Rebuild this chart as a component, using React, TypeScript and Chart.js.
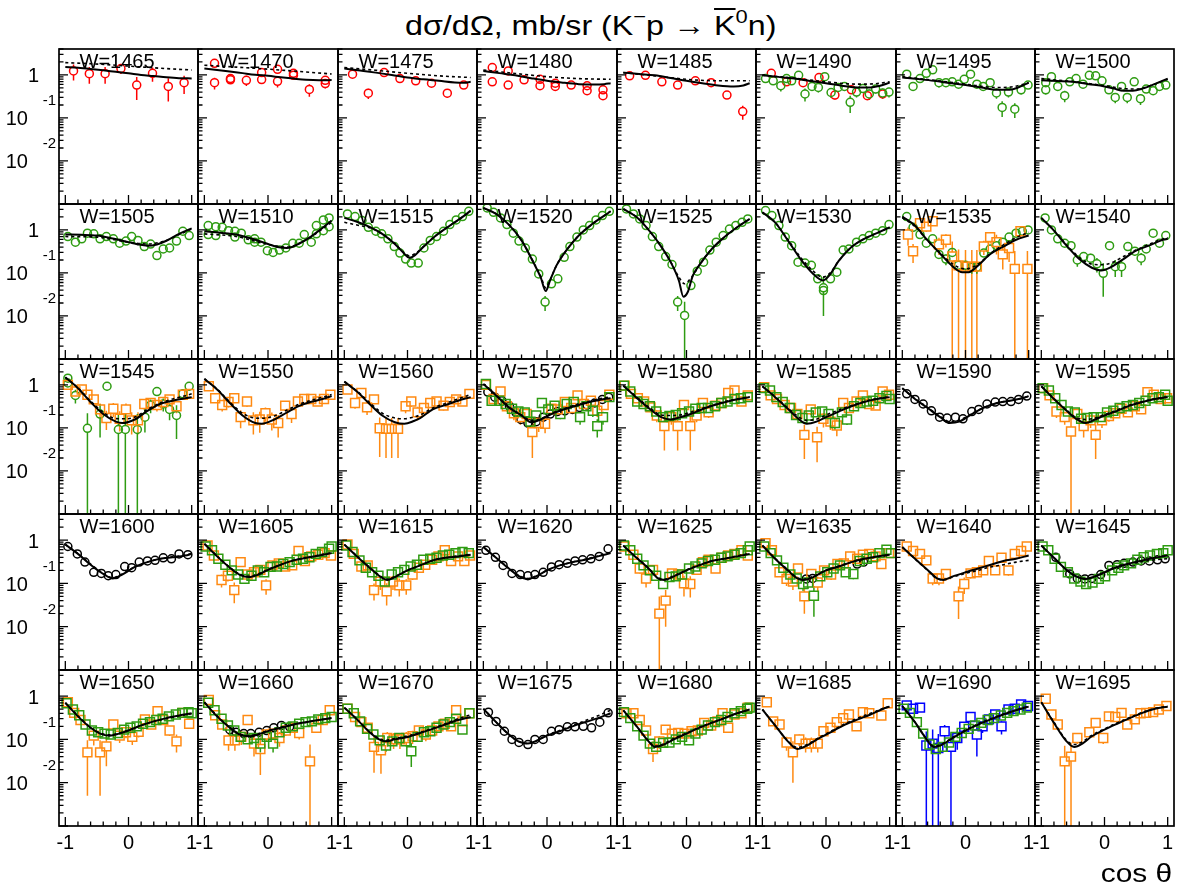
import React, { useEffect, useRef } from 'react';
import { Chart, registerables } from 'chart.js';
Chart.register(...registerables);

const FONT = '"Liberation Sans", Arial, Helvetica, sans-serif';

// ---------- axis / tick definitions ----------
const X_MIN = -1.1, X_MAX = 1.1;
const Y_MIN = 0.001, Y_MAX = 4;
const X_LABEL_VALUES = [-1, 0, 1];
const X_LABELS = ['-1', '0', '1'];
const X_TICKS = [-1, -0.8, -0.6, -0.4, -0.2, 0, 0.2, 0.4, 0.6, 0.8, 1];
const Y_LABEL_VALUES = [1, 0.1, 0.01];
const Y_LABELS = ['1', '10  ', '10  '];
const Y_SUP_LABELS = ['', '-1', '-2'];
const Y_DECADES = [0.001, 0.01, 0.1, 1];
const Y_MANTISSAS = [1, 2, 3, 4, 5, 6, 7, 8, 9];

// ---------- data: [cos θ, dσ/dΩ, error] and curves [cos θ, dσ/dΩ] ----------
// Row 1
const red1465 = [[-0.87,1.24,0.5],[-0.62,1.07,0.45],[-0.37,1.07,0.45],[-0.12,1.40,0.35],[0.13,0.58,0.32],[0.38,1.09,0.4],[0.63,0.54,0.3],[0.88,0.66,0.3]];
const fit1465 = [[-1,1.53],[-0.8,1.47],[-0.6,1.38],[-0.4,1.28],[-0.2,1.18],[0,1.09],[0.2,1.0],[0.4,0.94],[0.6,0.88],[0.8,0.84],[1,0.83]];
const alt1465 = [[-1,1.93],[-0.6,1.82],[-0.2,1.68],[0.2,1.53],[0.6,1.40],[1,1.30]];

const red1470 = [[-0.84,1.86,0.4],[-0.84,0.66,0.2],[-0.59,0.82,0.2],[-0.59,0.77,0.15],[-0.34,0.75,0.2],[-0.1,1.13,0.2],[-0.1,0.78,0.15],[0.15,1.35,0.25],[0.15,0.71,0.2],[0.4,1.09,0.2],[0.4,0.98,0.15],[0.65,0.46,0.15],[0.9,0.75,0.15],[0.9,0.63,0.15]];
const fit1470 = [[-1,1.40],[-0.8,1.30],[-0.6,1.20],[-0.4,1.10],[-0.2,1.01],[0,0.95],[0.2,0.88],[0.4,0.82],[0.6,0.77],[0.8,0.75],[1,0.76]];
const alt1470 = [[-1,1.68],[-0.5,1.52],[0,1.36],[0.5,1.2],[1,1.05]];

const red1475 = [[-0.87,1.04,0.2],[-0.62,0.376,0.1],[-0.37,1.13,0.12],[-0.12,0.82,0.08],[0.13,0.73,0.07],[0.38,0.64,0.07],[0.63,0.376,0.08],[0.89,0.58,0.08]];
const fit1475 = [[-1,1.40],[-0.75,1.26],[-0.5,1.13],[-0.25,1.0],[0,0.87],[0.25,0.79],[0.5,0.73],[0.75,0.67],[0.9,0.66],[1,0.69]];
const alt1475 = [[-1,1.48],[-0.5,1.28],[0,1.09],[0.5,0.95],[1,0.87]];

const red1480 = [[-0.86,1.48,0.15],[-0.86,0.69,0.1],[-0.61,1.24,0.12],[-0.61,0.58,0.08],[-0.36,0.77,0.08],[-0.11,0.79,0.08],[-0.11,0.56,0.06],[0.13,0.64,0.07],[0.13,0.54,0.06],[0.38,0.58,0.06],[0.63,0.56,0.06],[0.63,0.43,0.05],[0.88,0.45,0.06],[0.88,0.33,0.06]];
const fit1480 = [[-1,1.24],[-0.75,1.1],[-0.5,0.98],[-0.25,0.84],[0,0.73],[0.25,0.66],[0.5,0.61],[0.75,0.595],[0.9,0.61],[1,0.64]];
const alt1480 = [[-1,1.30],[-0.5,1.08],[0,0.91],[0.5,0.82],[1,0.79]];

const red1485 = [[-0.90,0.95,0.08],[-0.65,0.98,0.08],[-0.39,0.69,0.07],[-0.14,0.58,0.07],[0.14,0.73,0.07],[0.39,0.66,0.07],[0.64,0.34,0.06],[0.89,0.141,0.05]];
const fit1485 = [[-1,1.13],[-0.75,1.05],[-0.5,0.98],[-0.25,0.85],[0,0.73],[0.25,0.64],[0.5,0.57],[0.75,0.54],[0.9,0.57],[1,0.64]];
const alt1485 = [[-1,1.13],[-0.5,0.95],[0,0.79],[0.5,0.73],[1,0.73]];

const red1490 = [[-0.86,1.09,0.1],[-0.62,0.69,0.08],[-0.36,0.66,0.08],[-0.11,0.87,0.08],[0.14,0.34,0.07],[0.40,0.45,0.07],[0.65,0.33,0.07],[0.89,0.36,0.07]];
const green1490 = [[-0.95,0.82,0.15],[-0.83,0.73,0.15],[-0.71,0.56,0.15],[-0.62,0.82,0.12],[-0.54,0.73,0.12],[-0.43,0.98,0.15],[-0.33,0.36,0.12],[-0.22,0.54,0.12],[-0.12,0.51,0.12],[-0.02,0.91,0.15],[0.08,0.39,0.1],[0.19,0.51,0.1],[0.29,0.54,0.1],[0.38,0.23,0.1],[0.48,0.40,0.1],[0.58,0.48,0.1],[0.68,0.36,0.1],[0.78,0.47,0.1],[0.89,0.38,0.1],[0.99,0.40,0.1]];
const fit1490 = [[-1,0.98],[-0.75,0.90],[-0.5,0.82],[-0.25,0.72],[0,0.64],[0.25,0.56],[0.5,0.51],[0.7,0.51],[0.85,0.56],[1,0.66]];
const alt1490 = [[-1,0.98],[-0.5,0.84],[0,0.69],[0.5,0.61],[0.75,0.62],[1,0.69]];

const green1495 = [[-0.93,1.04,0.12],[-0.83,0.54,0.12],[-0.72,0.82,0.12],[-0.62,1.09,0.12],[-0.52,1.31,0.15],[-0.42,0.66,0.15],[-0.31,0.66,0.1],[-0.21,0.69,0.1],[-0.11,0.61,0.1],[-0.02,0.79,0.1],[0.08,1.04,0.12],[0.18,0.61,0.1],[0.28,0.54,0.1],[0.39,0.66,0.1],[0.49,0.38,0.1],[0.58,0.175,0.07],[0.68,0.40,0.1],[0.78,0.16,0.06],[0.88,0.45,0.1],[0.99,0.58,0.1]];
const fit1495 = [[-1,0.87],[-0.75,0.80],[-0.5,0.73],[-0.25,0.65],[0,0.58],[0.25,0.51],[0.5,0.45],[0.7,0.45],[0.85,0.52],[1,0.66]];
const alt1495 = [[-1,0.91],[-0.5,0.75],[0,0.61],[0.5,0.51],[0.75,0.53],[1,0.66]];

const green1500 = [[-0.93,0.66,0.1],[-0.93,0.45,0.1],[-0.84,0.91,0.1],[-0.74,0.54,0.1],[-0.63,0.33,0.1],[-0.55,0.69,0.1],[-0.45,0.82,0.1],[-0.34,0.61,0.1],[-0.24,0.98,0.1],[-0.14,0.95,0.1],[-0.04,0.73,0.1],[0.07,0.45,0.08],[0.17,0.30,0.08],[0.27,0.54,0.08],[0.36,0.30,0.08],[0.47,0.69,0.08],[0.57,0.28,0.08],[0.66,0.47,0.08],[0.77,0.43,0.08],[0.87,0.54,0.08],[0.97,0.58,0.08]];
const fit1500 = [[-1,0.75],[-0.75,0.72],[-0.5,0.69],[-0.25,0.61],[0,0.54],[0.15,0.48],[0.3,0.43],[0.45,0.43],[0.6,0.48],[0.8,0.62],[1,0.82]];
const alt1500 = [[-1,0.82],[-0.5,0.70],[0,0.56],[0.3,0.48],[0.5,0.47],[0.75,0.58],[1,0.79]];

// Row 2
const green1505 = [[-0.96,0.70,0.08],[-0.84,0.52,0.06],[-0.74,0.62,0.06],[-0.65,0.84,0.07],[-0.55,0.81,0.07],[-0.45,0.62,0.06],[-0.35,0.70,0.06],[-0.24,0.62,0.06],[-0.14,0.49,0.05],[-0.04,0.55,0.05],[0.05,0.70,0.06],[0.15,0.57,0.05],[0.25,0.41,0.04],[0.35,0.47,0.05],[0.45,0.254,0.05],[0.55,0.36,0.04],[0.65,0.38,0.04],[0.76,0.55,0.05],[0.86,0.93,0.07],[0.96,0.74,0.06]];
const fit1505 = [[-1,0.78],[-0.75,0.77],[-0.5,0.74],[-0.25,0.63],[0,0.52],[0.15,0.46],[0.3,0.43],[0.45,0.46],[0.6,0.56],[0.8,0.81],[1,1.09]];
const alt1505 = [[-1,0.70],[-0.5,0.68],[-0.25,0.60],[0,0.52],[0.3,0.47],[0.6,0.57],[0.8,0.78],[1,1.05]];

const green1510 = [[-0.94,1.26,0.1],[-0.94,0.78,0.07],[-0.82,1.19,0.1],[-0.82,0.74,0.06],[-0.72,1.15,0.1],[-0.62,0.96,0.08],[-0.52,0.93,0.08],[-0.52,0.68,0.06],[-0.42,0.84,0.07],[-0.31,0.59,0.05],[-0.21,0.62,0.05],[-0.21,0.52,0.05],[-0.11,0.52,0.05],[-0.01,0.33,0.04],[0.08,0.30,0.04],[0.18,0.34,0.04],[0.28,0.38,0.04],[0.39,0.49,0.05],[0.49,0.49,0.05],[0.57,0.78,0.06],[0.68,0.52,0.05],[0.76,1.26,0.1],[0.76,0.81,0.07],[0.87,1.71,0.12],[0.87,0.96,0.08],[0.96,1.90,0.15],[0.96,1.19,0.1]];
const fit1510 = [[-1,0.93],[-0.75,0.86],[-0.5,0.78],[-0.2,0.59],[0,0.47],[0.15,0.40],[0.3,0.38],[0.5,0.49],[0.65,0.66],[0.8,0.96],[1,1.65]];
const alt1510 = [[-1,0.81],[-0.5,0.70],[0,0.46],[0.3,0.40],[0.6,0.59],[0.8,0.92],[1,1.5]];

const green1515 = [[-0.95,2.35,0.15],[-0.83,2.04,0.12],[-0.72,1.65,0.1],[-0.62,1.15,0.08],[-0.50,0.93,0.07],[-0.41,0.81,0.06],[-0.31,0.62,0.05],[-0.21,0.41,0.04],[-0.12,0.29,0.03],[-0.03,0.21,0.03],[0.06,0.17,0.02],[0.17,0.17,0.02],[0.26,0.38,0.03],[0.36,0.57,0.04],[0.46,0.70,0.05],[0.57,0.93,0.06],[0.67,1.33,0.08],[0.77,1.71,0.1],[0.87,2.04,0.12],[0.97,2.71,0.15]];
const fit1515 = [[-1,1.9],[-0.8,1.55],[-0.6,1.18],[-0.4,0.81],[-0.2,0.47],[-0.05,0.28],[0.03,0.224],[0.12,0.26],[0.25,0.40],[0.45,0.74],[0.7,1.35],[0.85,1.9],[1,2.8]];
const alt1515 = [[-1,1.5],[-0.8,1.3],[-0.6,1.12],[-0.4,0.81],[-0.2,0.48],[-0.05,0.29],[0.03,0.25],[0.12,0.28],[0.25,0.41],[0.45,0.74],[0.7,1.35],[0.85,1.9],[1,2.75]];

const green1520 = [[-0.94,3.24,0.2],[-0.84,2.57,0.15],[-0.73,1.90,0.12],[-0.63,1.33,0.1],[-0.53,0.84,0.06],[-0.44,0.55,0.04],[-0.34,0.38,0.03],[-0.23,0.21,0.02],[-0.13,0.095,0.01],[-0.03,0.021,0.008],[0.07,0.056,0.008],[0.17,0.073,0.01],[0.27,0.23,0.02],[0.36,0.41,0.03],[0.47,0.68,0.05],[0.57,1.0,0.06],[0.67,1.26,0.08],[0.77,1.71,0.1],[0.87,2.15,0.12],[0.98,2.71,0.15]];
const fit1520 = [[-1,3.24],[-0.8,2.35],[-0.6,1.33],[-0.4,0.57],[-0.2,0.16],[-0.1,0.08],[-0.02,0.038],[0.05,0.068],[0.15,0.15],[0.3,0.33],[0.5,0.74],[0.7,1.33],[0.9,2.15],[1,2.71]];
const alt1520 = [[-1,3.24],[-0.8,2.35],[-0.6,1.33],[-0.4,0.57],[-0.2,0.165],[-0.1,0.085],[-0.02,0.045],[0.05,0.07],[0.15,0.15],[0.3,0.33],[0.5,0.74],[0.7,1.33],[0.9,2.15],[1,2.71]];

const green1525 = [[-0.95,3.07,0.2],[-0.84,2.35,0.15],[-0.74,1.80,0.12],[-0.64,1.26,0.08],[-0.54,0.70,0.05],[-0.44,0.41,0.03],[-0.33,0.24,0.02],[-0.23,0.157,0.015],[-0.14,0.021,0.008],[-0.03,0.0103,0.011],[0.07,0.051,0.008],[0.17,0.11,0.01],[0.27,0.178,0.015],[0.37,0.34,0.025],[0.47,0.52,0.035],[0.58,0.74,0.05],[0.68,1.05,0.06],[0.78,1.26,0.08],[0.88,1.5,0.08],[0.97,1.80,0.1]];
const fit1525 = [[-1,3.07],[-0.8,2.04],[-0.6,1.0],[-0.4,0.41],[-0.25,0.178],[-0.12,0.066],[-0.05,0.028],[0.02,0.036],[0.1,0.087],[0.2,0.15],[0.4,0.36],[0.6,0.68],[0.8,1.15],[1,1.80]];
const alt1525 = [[-1,3.07],[-0.8,2.04],[-0.6,1.0],[-0.4,0.41],[-0.25,0.18],[-0.12,0.08],[-0.03,0.056],[0.05,0.07],[0.12,0.095],[0.2,0.15],[0.4,0.36],[0.6,0.68],[0.8,1.15],[1,1.80]];

const green1530 = [[-0.95,2.81,0.15],[-0.85,2.15,0.12],[-0.74,1.26,0.1],[-0.64,0.68,0.06],[-0.54,0.43,0.04],[-0.44,0.178,0.03],[-0.33,0.17,0.03],[-0.23,0.15,0.03],[-0.13,0.073,0.015],[-0.04,0.045,0.035],[-0.04,0.039,0.01],[0.07,0.073,0.015],[0.17,0.104,0.02],[0.27,0.34,0.04],[0.36,0.36,0.04],[0.48,0.52,0.05],[0.58,0.62,0.05],[0.68,0.74,0.06],[0.78,0.84,0.06],[0.89,0.96,0.07],[0.99,1.33,0.08]];
const fit1530 = [[-1,2.57],[-0.8,1.5],[-0.6,0.57],[-0.4,0.21],[-0.2,0.095],[-0.05,0.067],[0.05,0.087],[0.2,0.19],[0.4,0.40],[0.6,0.62],[0.8,0.84],[1,1.15]];
const alt1530 = [[-1,2.57],[-0.8,1.5],[-0.6,0.6],[-0.4,0.23],[-0.2,0.11],[-0.05,0.08],[0.05,0.095],[0.2,0.19],[0.4,0.40],[0.6,0.62],[0.8,0.84],[1,1.15]];

const green1535 = [[-0.93,2.04,0.15],[-0.83,1.15,0.12],[-0.72,0.78,0.1],[-0.62,0.49,0.08],[-0.52,0.62,0.08],[-0.42,0.27,0.06],[-0.31,0.21,0.06],[-0.21,0.30,0.06],[-0.11,0.15,0.04],[0.0,0.15,0.04],[0.10,0.136,0.04],[0.18,0.136,0.04],[0.29,0.29,0.05],[0.39,0.36,0.05],[0.49,0.43,0.06],[0.59,0.52,0.06],[0.69,0.68,0.07],[0.80,0.84,0.08],[0.90,0.93,0.08],[0.99,1.0,0.1]];
const orange1535 = [[-0.91,0.78,0.35],[-0.83,0.32,0.15],[-0.72,1.43,0.3],[-0.62,1.19,0.3],[-0.52,1.59,0.3],[-0.42,0.46,0.2],[-0.31,0.59,0.2],[-0.21,0.24,0.3],[-0.11,0.15,0.2],[0.0,0.14,0.2],[0.10,0.14,0.2],[0.18,0.14,0.2],[0.29,0.41,0.15],[0.39,0.68,0.2],[0.49,0.52,0.25],[0.59,0.27,0.15],[0.69,0.38,0.2],[0.78,0.124,0.2],[0.87,0.93,0.3],[0.98,0.124,0.2]];
const fit1535 = [[-1,2.04],[-0.8,1.26],[-0.6,0.57],[-0.4,0.28],[-0.2,0.14],[-0.05,0.104],[0.05,0.104],[0.2,0.15],[0.4,0.28],[0.6,0.41],[0.8,0.59],[1,0.74]];
const alt1535 = [[-1,1.90],[-0.8,1.2],[-0.6,0.56],[-0.4,0.29],[-0.2,0.16],[0,0.124],[0.2,0.16],[0.4,0.29],[0.6,0.45],[0.8,0.66],[1,0.88]];

const green1540 = [[-0.94,1.90,0.15],[-0.84,1.0,0.1],[-0.74,0.62,0.08],[-0.63,0.49,0.07],[-0.53,0.43,0.07],[-0.43,0.20,0.06],[-0.33,0.24,0.06],[-0.22,0.22,0.06],[-0.12,0.163,0.06],[-0.02,0.098,0.07],[0.08,0.43,0.07],[0.17,0.14,0.06],[0.27,0.14,0.06],[0.37,0.41,0.07],[0.48,0.32,0.07],[0.58,0.22,0.07],[0.66,0.36,0.07],[0.77,0.84,0.1],[0.87,0.49,0.08],[0.97,0.74,0.08]];
const fit1540 = [[-1,1.9],[-0.8,0.96],[-0.6,0.43],[-0.4,0.21],[-0.2,0.132],[-0.05,0.114],[0.1,0.136],[0.3,0.21],[0.5,0.33],[0.7,0.43],[0.9,0.57],[1,0.62]];
const alt1540 = [[-1,1.9],[-0.8,0.98],[-0.6,0.45],[-0.4,0.23],[-0.2,0.16],[-0.05,0.155],[0.1,0.17],[0.3,0.24],[0.5,0.34],[0.7,0.46],[0.9,0.6],[1,0.66]];

// Row 3
const green1545 = [[-0.96,1.43,0.2],[-0.96,1.11,0.2],[-0.84,0.57,0.2],[-0.65,0.098,0.12],[-0.45,0.21,0.15],[-0.34,0.93,0.2],[-0.16,0.092,0.12],[-0.05,0.092,0.12],[0.14,0.092,0.12],[0.26,0.178,0.1],[0.35,0.34,0.12],[0.45,0.70,0.15],[0.55,0.36,0.12],[0.65,0.27,0.12],[0.76,0.195,0.14],[0.86,0.62,0.15],[0.96,0.93,0.15]];
const orange1545 = [[-0.96,1.0,0.2],[-0.84,0.70,0.15],[-0.74,0.78,0.15],[-0.65,0.59,0.12],[-0.55,0.46,0.1],[-0.45,0.27,0.1],[-0.35,0.17,0.08],[-0.24,0.28,0.1],[-0.14,0.163,0.08],[-0.04,0.27,0.1],[0.05,0.15,0.08],[0.15,0.15,0.08],[0.25,0.36,0.1],[0.35,0.38,0.1],[0.45,0.34,0.1],[0.55,0.40,0.1],[0.65,0.46,0.1],[0.76,0.32,0.1],[0.86,0.59,0.12],[0.96,0.62,0.12]];
const fit1545 = [[-1,1.5],[-0.8,0.84],[-0.6,0.40],[-0.4,0.21],[-0.2,0.14],[-0.1,0.13],[0.1,0.157],[0.3,0.25],[0.5,0.36],[0.7,0.43],[0.9,0.49],[1,0.52]];
const alt1545 = [[-1,1.5],[-0.8,0.85],[-0.6,0.42],[-0.4,0.23],[-0.2,0.165],[-0.05,0.163],[0.1,0.18],[0.3,0.27],[0.5,0.38],[0.7,0.47],[0.9,0.56],[1,0.62]];

const orange1550 = [[-0.93,0.93,0.12],[-0.83,0.49,0.1],[-0.72,0.34,0.1],[-0.62,0.40,0.1],[-0.53,0.49,0.1],[-0.43,0.178,0.08],[-0.33,0.41,0.1],[-0.23,0.15,0.08],[-0.13,0.157,0.08],[-0.04,0.22,0.08],[0.06,0.157,0.07],[0.16,0.13,0.07],[0.27,0.33,0.08],[0.37,0.21,0.08],[0.47,0.41,0.08],[0.57,0.47,0.08],[0.68,0.47,0.08],[0.78,0.41,0.07],[0.88,0.47,0.07],[0.98,0.59,0.08]];
const fit1550 = [[-1,1.38],[-0.8,0.78],[-0.6,0.38],[-0.4,0.195],[-0.2,0.13],[-0.1,0.125],[0.1,0.157],[0.3,0.23],[0.5,0.33],[0.7,0.41],[0.9,0.49],[1,0.55]];
const alt1550 = [[-1,1.38],[-0.8,0.8],[-0.6,0.4],[-0.4,0.22],[-0.2,0.17],[-0.1,0.168],[0.1,0.19],[0.3,0.26],[0.5,0.36],[0.7,0.45],[0.9,0.54],[1,0.6]];

const orange1560 = [[-0.95,0.78,0.12],[-0.83,0.38,0.1],[-0.73,0.65,0.12],[-0.64,0.30,0.1],[-0.53,0.46,0.1],[-0.44,0.098,0.077],[-0.34,0.095,0.075],[-0.25,0.095,0.075],[-0.15,0.095,0.075],[-0.03,0.32,0.1],[0.06,0.41,0.1],[0.16,0.23,0.08],[0.26,0.29,0.08],[0.36,0.38,0.08],[0.46,0.41,0.08],[0.57,0.33,0.08],[0.67,0.40,0.08],[0.77,0.46,0.08],[0.87,0.41,0.08],[0.98,0.62,0.1]];
const fit1560 = [[-1,1.19],[-0.8,0.70],[-0.6,0.36],[-0.4,0.195],[-0.2,0.136],[-0.05,0.125],[0.1,0.145],[0.2,0.17],[0.4,0.27],[0.6,0.34],[0.8,0.43],[1,0.52]];
const alt1560 = [[-1,1.19],[-0.8,0.72],[-0.6,0.39],[-0.4,0.22],[-0.2,0.17],[-0.05,0.163],[0.1,0.18],[0.2,0.2],[0.4,0.29],[0.6,0.37],[0.8,0.47],[1,0.6]];

const black1570 = [[-0.93,0.68,0.02],[-0.82,0.52,0.02],[-0.71,0.43,0.02],[-0.59,0.32,0.01],[-0.49,0.23,0.01],[-0.41,0.157,0.01],[-0.30,0.13,0.01],[-0.17,0.14,0.01],[-0.06,0.178,0.01],[0.05,0.21,0.01],[0.16,0.24,0.01],[0.28,0.25,0.01],[0.40,0.27,0.01],[0.51,0.30,0.01],[0.63,0.34,0.01],[0.75,0.38,0.01],[0.87,0.46,0.02],[0.97,0.52,0.02]];
const orange1570 = [[-0.96,1.0,0.15],[-0.84,0.47,0.1],[-0.73,0.70,0.1],[-0.63,0.32,0.08],[-0.52,0.22,0.07],[-0.42,0.178,0.06],[-0.32,0.21,0.07],[-0.23,0.08,0.06],[-0.13,0.13,0.05],[-0.03,0.125,0.05],[0.07,0.28,0.06],[0.17,0.27,0.06],[0.28,0.40,0.07],[0.38,0.29,0.06],[0.48,0.57,0.08],[0.58,0.36,0.07],[0.69,0.43,0.07],[0.79,0.25,0.07],[0.89,0.34,0.07],[0.98,0.59,0.08]];
const green1570 = [[-0.96,1.05,0.06],[-0.87,0.43,0.06],[-0.75,0.43,0.06],[-0.65,0.36,0.05],[-0.55,0.28,0.05],[-0.45,0.24,0.05],[-0.35,0.23,0.05],[-0.26,0.14,0.04],[-0.17,0.195,0.05],[-0.08,0.38,0.06],[0.02,0.27,0.05],[0.12,0.33,0.05],[0.21,0.21,0.05],[0.31,0.36,0.06],[0.42,0.40,0.06],[0.52,0.178,0.06],[0.62,0.32,0.06],[0.72,0.25,0.07],[0.79,0.11,0.05],[0.88,0.178,0.06],[0.98,0.52,0.07]];
const fit1570 = [[-1,1.05],[-0.8,0.57],[-0.6,0.30],[-0.4,0.195],[-0.25,0.136],[-0.1,0.157],[0.1,0.22],[0.3,0.28],[0.5,0.34],[0.7,0.41],[0.9,0.47],[1,0.49]];
const alt1570 = [[-1,1.05],[-0.8,0.58],[-0.6,0.31],[-0.4,0.2],[-0.25,0.15],[-0.1,0.165],[0.1,0.23],[0.3,0.29],[0.5,0.36],[0.7,0.43],[0.9,0.5],[1,0.52]];

const orange1580 = [[-0.98,0.96,0.1],[-0.88,0.62,0.1],[-0.77,0.49,0.1],[-0.67,0.41,0.08],[-0.57,0.30,0.07],[-0.47,0.195,0.06],[-0.35,0.11,0.08],[-0.24,0.178,0.06],[-0.14,0.11,0.08],[-0.04,0.34,0.07],[0.06,0.11,0.08],[0.16,0.195,0.06],[0.26,0.38,0.07],[0.35,0.23,0.06],[0.46,0.33,0.06],[0.56,0.38,0.07],[0.66,0.65,0.08],[0.76,0.74,0.08],[0.87,0.41,0.07],[0.97,0.57,0.08]];
const green1580 = [[-0.99,0.96,0.05],[-0.89,0.70,0.05],[-0.78,0.41,0.04],[-0.68,0.36,0.04],[-0.58,0.32,0.04],[-0.48,0.24,0.03],[-0.37,0.178,0.03],[-0.27,0.19,0.03],[-0.17,0.20,0.03],[-0.07,0.22,0.03],[0.04,0.24,0.03],[0.14,0.28,0.03],[0.24,0.29,0.03],[0.34,0.29,0.03],[0.45,0.32,0.03],[0.55,0.38,0.04],[0.65,0.41,0.04],[0.76,0.47,0.04],[0.86,0.49,0.04],[0.97,0.52,0.04]];
const fit1580 = [[-1,0.96],[-0.8,0.52],[-0.6,0.29],[-0.4,0.178],[-0.25,0.157],[-0.1,0.178],[0.1,0.22],[0.3,0.29],[0.5,0.36],[0.7,0.43],[0.9,0.49],[1,0.52]];
const alt1580 = [[-1,0.96],[-0.8,0.54],[-0.6,0.31],[-0.4,0.2],[-0.25,0.195],[-0.1,0.2],[0.1,0.24],[0.3,0.3],[0.5,0.37],[0.7,0.44],[0.9,0.5],[1,0.53]];

const orange1585 = [[-0.97,0.88,0.1],[-0.87,0.57,0.08],[-0.77,0.47,0.08],[-0.65,0.34,0.07],[-0.55,0.29,0.06],[-0.45,0.21,0.06],[-0.34,0.069,0.05],[-0.24,0.27,0.07],[-0.14,0.061,0.045],[-0.04,0.163,0.06],[0.07,0.14,0.05],[0.17,0.114,0.05],[0.27,0.38,0.07],[0.36,0.29,0.06],[0.48,0.41,0.07],[0.58,0.57,0.08],[0.68,0.36,0.07],[0.78,0.33,0.07],[0.89,0.70,0.08],[0.99,0.59,0.08]];
const green1585 = [[-0.98,0.84,0.05],[-0.88,0.74,0.05],[-0.78,0.52,0.04],[-0.68,0.40,0.04],[-0.57,0.29,0.03],[-0.47,0.20,0.03],[-0.37,0.17,0.03],[-0.27,0.195,0.03],[-0.16,0.23,0.03],[-0.06,0.24,0.03],[0.04,0.21,0.03],[0.14,0.13,0.04],[0.25,0.23,0.03],[0.33,0.157,0.04],[0.44,0.32,0.03],[0.54,0.38,0.04],[0.64,0.41,0.04],[0.74,0.43,0.04],[0.84,0.49,0.04],[0.95,0.55,0.04],[1.0,0.47,0.04]];
const fit1585 = [[-1,0.93],[-0.8,0.52],[-0.6,0.28],[-0.45,0.17],[-0.3,0.125],[-0.15,0.14],[0,0.178],[0.2,0.24],[0.4,0.32],[0.6,0.40],[0.8,0.47],[1,0.52]];
const alt1585 = [[-1,0.93],[-0.8,0.53],[-0.6,0.29],[-0.45,0.19],[-0.3,0.15],[-0.15,0.16],[0,0.2],[0.2,0.26],[0.4,0.33],[0.6,0.41],[0.8,0.48],[1,0.53]];

const black1590 = [[-0.93,0.62,0.02],[-0.80,0.46,0.02],[-0.67,0.36,0.015],[-0.54,0.25,0.01],[-0.41,0.178,0.01],[-0.29,0.17,0.01],[-0.16,0.178,0.01],[-0.04,0.163,0.01],[0.10,0.24,0.01],[0.21,0.27,0.01],[0.34,0.36,0.015],[0.47,0.40,0.015],[0.59,0.41,0.015],[0.72,0.41,0.015],[0.84,0.46,0.015],[0.97,0.55,0.02]];
const fit1590 = [[-1,0.84],[-0.8,0.47],[-0.6,0.29],[-0.4,0.178],[-0.25,0.13],[-0.1,0.14],[0.1,0.21],[0.3,0.30],[0.5,0.38],[0.7,0.43],[0.9,0.49],[1,0.55]];
const alt1590 = [[-1,0.84],[-0.8,0.48],[-0.6,0.3],[-0.4,0.185],[-0.25,0.14],[-0.1,0.15],[0.1,0.215],[0.3,0.3],[0.5,0.38],[0.7,0.43],[0.9,0.49],[1,0.55]];

const orange1595 = [[-0.97,0.84,0.1],[-0.87,0.57,0.08],[-0.76,0.24,0.07],[-0.63,0.178,0.06],[-0.53,0.083,0.09],[-0.43,0.21,0.06],[-0.33,0.11,0.05],[-0.22,0.15,0.05],[-0.14,0.069,0.05],[-0.04,0.15,0.05],[0.07,0.19,0.05],[0.17,0.22,0.05],[0.27,0.28,0.06],[0.37,0.23,0.05],[0.48,0.32,0.06],[0.58,0.27,0.06],[0.68,0.68,0.08],[0.78,0.59,0.08],[0.89,0.47,0.07],[0.99,0.49,0.07]];
const green1595 = [[-0.98,0.84,0.05],[-0.88,0.74,0.05],[-0.78,0.49,0.04],[-0.68,0.34,0.04],[-0.58,0.24,0.03],[-0.47,0.23,0.03],[-0.37,0.163,0.03],[-0.27,0.17,0.03],[-0.17,0.178,0.03],[-0.06,0.178,0.03],[0.04,0.23,0.03],[0.14,0.25,0.03],[0.24,0.29,0.03],[0.35,0.32,0.03],[0.45,0.34,0.03],[0.55,0.38,0.04],[0.65,0.43,0.04],[0.76,0.49,0.04],[0.86,0.52,0.04],[0.96,0.59,0.04],[1.0,0.43,0.04]];
const fit1595 = [[-1,0.93],[-0.8,0.47],[-0.6,0.25],[-0.45,0.163],[-0.3,0.13],[-0.15,0.157],[0,0.195],[0.2,0.25],[0.4,0.33],[0.6,0.40],[0.8,0.47],[1,0.52]];
const alt1595 = [[-1,0.93],[-0.8,0.48],[-0.6,0.26],[-0.45,0.175],[-0.3,0.157],[-0.15,0.17],[0,0.205],[0.2,0.26],[0.4,0.34],[0.6,0.41],[0.8,0.48],[1,0.53]];

// Row 4
const black1600 = [[-0.96,0.71,0.02],[-0.81,0.48,0.02],[-0.69,0.31,0.015],[-0.55,0.18,0.01],[-0.43,0.17,0.01],[-0.32,0.15,0.01],[-0.20,0.16,0.01],[-0.06,0.245,0.01],[0.05,0.23,0.01],[0.17,0.31,0.015],[0.30,0.33,0.015],[0.42,0.34,0.015],[0.55,0.39,0.015],[0.68,0.37,0.015],[0.80,0.48,0.02],[0.94,0.46,0.02]];
const fit1600 = [[-1,0.79],[-0.8,0.48],[-0.6,0.27],[-0.4,0.166],[-0.25,0.13],[-0.1,0.16],[0.1,0.24],[0.3,0.31],[0.5,0.37],[0.7,0.40],[0.9,0.44],[1,0.48]];
const alt1600 = [[-1,0.79],[-0.8,0.49],[-0.6,0.28],[-0.4,0.17],[-0.25,0.135],[-0.1,0.165],[0.1,0.24],[0.3,0.31],[0.5,0.37],[0.7,0.41],[0.9,0.45],[1,0.49]];

const orange1605 = [[-0.95,0.75,0.08],[-0.85,0.44,0.06],[-0.73,0.12,0.04],[-0.63,0.15,0.04],[-0.53,0.07,0.035],[-0.43,0.31,0.05],[-0.32,0.16,0.04],[-0.22,0.18,0.04],[-0.12,0.205,0.04],[-0.03,0.09,0.035],[0.07,0.26,0.04],[0.17,0.29,0.04],[0.27,0.245,0.04],[0.38,0.26,0.04],[0.48,0.56,0.05],[0.58,0.33,0.04],[0.68,0.42,0.04],[0.79,0.46,0.04],[0.89,0.50,0.05],[0.99,0.44,0.04]];
const green1605 = [[-0.98,0.71,0.03],[-0.88,0.58,0.03],[-0.78,0.37,0.02],[-0.67,0.27,0.02],[-0.57,0.20,0.02],[-0.47,0.16,0.02],[-0.37,0.127,0.02],[-0.26,0.15,0.02],[-0.16,0.20,0.02],[-0.06,0.18,0.02],[0.04,0.24,0.02],[0.14,0.245,0.02],[0.24,0.28,0.02],[0.34,0.31,0.02],[0.45,0.35,0.02],[0.55,0.37,0.02],[0.65,0.40,0.02],[0.75,0.48,0.03],[0.85,0.53,0.03],[0.96,0.63,0.03],[1.0,0.71,0.03]];
const fit1605 = [[-1,0.82],[-0.8,0.42],[-0.6,0.23],[-0.45,0.16],[-0.3,0.14],[-0.15,0.16],[0,0.205],[0.2,0.27],[0.4,0.34],[0.6,0.39],[0.8,0.44],[1,0.50]];
const alt1605 = [[-1,0.82],[-0.8,0.43],[-0.6,0.235],[-0.45,0.165],[-0.3,0.145],[-0.15,0.165],[0,0.21],[0.2,0.27],[0.4,0.34],[0.6,0.39],[0.8,0.45],[1,0.51]];

const orange1615 = [[-0.95,0.79,0.08],[-0.85,0.48,0.06],[-0.73,0.245,0.05],[-0.63,0.26,0.05],[-0.53,0.07,0.03],[-0.43,0.11,0.04],[-0.33,0.066,0.035],[-0.23,0.11,0.04],[-0.13,0.09,0.04],[-0.02,0.09,0.035],[0.08,0.16,0.04],[0.18,0.23,0.04],[0.28,0.27,0.04],[0.39,0.35,0.04],[0.49,0.42,0.05],[0.59,0.58,0.05],[0.69,0.33,0.04],[0.80,0.42,0.04],[0.90,0.33,0.04],[0.99,0.44,0.04]];
const green1615 = [[-0.97,0.75,0.03],[-0.87,0.53,0.03],[-0.76,0.34,0.02],[-0.66,0.23,0.02],[-0.56,0.18,0.02],[-0.46,0.15,0.02],[-0.36,0.11,0.02],[-0.25,0.16,0.02],[-0.15,0.18,0.02],[-0.05,0.205,0.02],[0.05,0.245,0.02],[0.15,0.27,0.02],[0.25,0.35,0.02],[0.36,0.37,0.02],[0.46,0.39,0.02],[0.56,0.44,0.02],[0.66,0.46,0.02],[0.76,0.50,0.03],[0.87,0.53,0.03],[0.97,0.50,0.03]];
const fit1615 = [[-1,0.79],[-0.8,0.42],[-0.6,0.23],[-0.45,0.15],[-0.32,0.12],[-0.2,0.14],[0,0.20],[0.2,0.26],[0.4,0.34],[0.6,0.39],[0.8,0.42],[1,0.46]];
const alt1615 = [[-1,0.79],[-0.8,0.43],[-0.6,0.235],[-0.45,0.155],[-0.32,0.125],[-0.2,0.145],[0,0.2],[0.2,0.26],[0.4,0.34],[0.6,0.39],[0.8,0.43],[1,0.47]];

const black1620 = [[-0.96,0.58,0.015],[-0.81,0.40,0.015],[-0.69,0.26,0.01],[-0.55,0.17,0.01],[-0.42,0.16,0.01],[-0.30,0.15,0.01],[-0.19,0.16,0.01],[-0.06,0.18,0.01],[0.07,0.24,0.01],[0.19,0.27,0.01],[0.32,0.29,0.01],[0.44,0.33,0.01],[0.56,0.35,0.01],[0.69,0.37,0.015],[0.82,0.42,0.015],[0.96,0.63,0.02]];
const fit1620 = [[-1,0.69],[-0.8,0.39],[-0.6,0.22],[-0.45,0.15],[-0.3,0.127],[-0.15,0.15],[0,0.20],[0.2,0.26],[0.4,0.31],[0.6,0.35],[0.8,0.42],[1,0.50]];
const alt1620 = [[-1,0.69],[-0.8,0.39],[-0.6,0.225],[-0.45,0.155],[-0.3,0.13],[-0.15,0.155],[0,0.2],[0.2,0.26],[0.4,0.31],[0.6,0.36],[0.8,0.43],[1,0.52]];

const orange1625 = [[-0.98,0.71,0.06],[-0.84,0.46,0.05],[-0.74,0.22,0.05],[-0.64,0.13,0.05],[-0.53,0.205,0.05],[-0.43,0.02,0.03],[-0.33,0.04,0.03],[-0.23,0.17,0.04],[-0.13,0.16,0.04],[-0.04,0.10,0.05],[0.06,0.097,0.05],[0.16,0.205,0.04],[0.26,0.31,0.04],[0.35,0.35,0.04],[0.46,0.22,0.04],[0.56,0.39,0.04],[0.66,0.44,0.04],[0.76,0.48,0.04],[0.87,0.58,0.05],[0.97,0.44,0.04]];
const green1625 = [[-0.99,0.75,0.03],[-0.89,0.58,0.03],[-0.78,0.37,0.02],[-0.68,0.26,0.02],[-0.58,0.20,0.02],[-0.48,0.15,0.02],[-0.37,0.097,0.02],[-0.27,0.14,0.02],[-0.17,0.145,0.02],[-0.07,0.16,0.02],[0.04,0.22,0.02],[0.14,0.245,0.02],[0.24,0.29,0.02],[0.34,0.33,0.02],[0.45,0.35,0.02],[0.55,0.39,0.02],[0.65,0.42,0.02],[0.76,0.46,0.02],[0.86,0.50,0.03],[0.97,0.58,0.03],[1.0,0.71,0.03]];
const fit1625 = [[-1,0.75],[-0.8,0.40],[-0.6,0.22],[-0.45,0.13],[-0.35,0.12],[-0.2,0.145],[0,0.20],[0.2,0.26],[0.4,0.33],[0.6,0.37],[0.8,0.42],[1,0.48]];
const alt1625 = [[-1,0.75],[-0.8,0.41],[-0.6,0.225],[-0.45,0.135],[-0.35,0.125],[-0.2,0.15],[0,0.205],[0.2,0.265],[0.4,0.33],[0.6,0.375],[0.8,0.43],[1,0.49]];

const orange1635 = [[-0.95,0.85,0.07],[-0.85,0.58,0.06],[-0.73,0.18,0.04],[-0.62,0.127,0.04],[-0.52,0.11,0.04],[-0.44,0.22,0.04],[-0.34,0.05,0.03],[-0.23,0.165,0.04],[-0.13,0.105,0.04],[-0.03,0.20,0.04],[0.08,0.16,0.04],[0.18,0.28,0.04],[0.28,0.29,0.04],[0.38,0.42,0.04],[0.49,0.37,0.04],[0.58,0.46,0.04],[0.68,0.48,0.04],[0.78,0.42,0.04],[0.87,0.28,0.04],[0.99,0.50,0.04]];
const green1635 = [[-0.97,0.71,0.03],[-0.87,0.50,0.03],[-0.77,0.34,0.02],[-0.67,0.23,0.02],[-0.56,0.16,0.02],[-0.46,0.13,0.02],[-0.36,0.097,0.03],[-0.28,0.105,0.03],[-0.19,0.052,0.035],[-0.09,0.145,0.03],[0.02,0.18,0.02],[0.12,0.22,0.02],[0.22,0.26,0.02],[0.31,0.18,0.04],[0.43,0.165,0.04],[0.53,0.33,0.03],[0.64,0.37,0.03],[0.74,0.40,0.03],[0.84,0.50,0.03],[0.95,0.60,0.03],[1.02,0.50,0.03]];
const black1635 = [[-0.31,0.127,0.01],[-0.21,0.13,0.01],[0.49,0.28,0.01],[0.59,0.31,0.01]];
const fit1635 = [[-1,0.75],[-0.8,0.37],[-0.6,0.20],[-0.45,0.13],[-0.35,0.12],[-0.2,0.14],[0,0.20],[0.2,0.245],[0.4,0.31],[0.6,0.37],[0.8,0.42],[1,0.46]];
const alt1635 = [[-1,0.75],[-0.8,0.38],[-0.6,0.205],[-0.45,0.135],[-0.35,0.125],[-0.2,0.145],[0,0.2],[0.2,0.25],[0.4,0.31],[0.6,0.36],[0.8,0.41],[1,0.45]];

const orange1640 = [[-0.93,0.71,0.07],[-0.83,0.56,0.06],[-0.72,0.48,0.05],[-0.62,0.34,0.05],[-0.52,0.13,0.04],[-0.42,0.13,0.04],[-0.31,0.165,0.05],[-0.11,0.05,0.035],[-0.02,0.097,0.04],[0.08,0.17,0.04],[0.18,0.18,0.04],[0.28,0.20,0.04],[0.37,0.33,0.05],[0.47,0.20,0.04],[0.57,0.39,0.05],[0.68,0.20,0.05],[0.78,0.48,0.05],[0.88,0.56,0.06],[0.97,0.71,0.07]];
const fit1640 = [[-1,0.69],[-0.8,0.37],[-0.6,0.205],[-0.45,0.13],[-0.35,0.12],[-0.2,0.145],[0,0.18],[0.2,0.22],[0.4,0.27],[0.6,0.33],[0.8,0.37],[1,0.44]];
const alt1640 = [[-1,0.69],[-0.8,0.37],[-0.6,0.2],[-0.45,0.128],[-0.35,0.122],[-0.2,0.14],[0,0.17],[0.2,0.2],[0.4,0.24],[0.6,0.27],[0.8,0.31],[1,0.34]];

const green1645 = [[-0.98,0.71,0.03],[-0.89,0.58,0.03],[-0.79,0.37,0.02],[-0.69,0.24,0.02],[-0.58,0.18,0.02],[-0.48,0.13,0.02],[-0.38,0.11,0.02],[-0.29,0.097,0.02],[-0.19,0.105,0.02],[-0.09,0.127,0.02],[0.01,0.145,0.02],[0.12,0.20,0.02],[0.22,0.23,0.02],[0.31,0.26,0.02],[0.42,0.29,0.02],[0.52,0.35,0.02],[0.62,0.40,0.02],[0.72,0.44,0.02],[0.83,0.48,0.02],[0.93,0.50,0.02],[1.0,0.58,0.03]];
const black1645 = [[-0.77,0.40,0.01],[-0.55,0.165,0.01],[-0.43,0.13,0.01],[-0.31,0.127,0.01],[-0.20,0.13,0.01],[-0.06,0.16,0.01],[0.07,0.26,0.01],[0.20,0.27,0.01],[0.31,0.29,0.01],[0.45,0.31,0.01],[0.58,0.33,0.01],[0.71,0.33,0.01],[0.84,0.35,0.01],[0.96,0.37,0.01]];
const fit1645 = [[-1,0.75],[-0.8,0.39],[-0.6,0.205],[-0.45,0.145],[-0.3,0.127],[-0.15,0.145],[0,0.18],[0.2,0.24],[0.4,0.29],[0.6,0.34],[0.8,0.39],[1,0.44]];
const alt1645 = [[-1,0.75],[-0.8,0.39],[-0.6,0.205],[-0.45,0.145],[-0.3,0.127],[-0.15,0.145],[0,0.18],[0.2,0.235],[0.4,0.28],[0.6,0.32],[0.8,0.35],[1,0.37]];

// Row 5
const green1650 = [[-0.98,0.68,0.03],[-0.88,0.49,0.03],[-0.78,0.36,0.02],[-0.68,0.22,0.02],[-0.58,0.16,0.02],[-0.48,0.146,0.02],[-0.38,0.136,0.02],[-0.28,0.13,0.02],[-0.17,0.14,0.02],[-0.07,0.168,0.02],[0.03,0.185,0.02],[0.13,0.20,0.02],[0.23,0.23,0.02],[0.34,0.25,0.02],[0.44,0.28,0.02],[0.54,0.30,0.02],[0.64,0.34,0.02],[0.75,0.375,0.02],[0.85,0.41,0.02],[0.95,0.425,0.02],[1.0,0.40,0.02]];
const orange1650 = [[-0.96,0.72,0.06],[-0.86,0.41,0.05],[-0.76,0.28,0.05],[-0.65,0.05,0.045],[-0.55,0.122,0.05],[-0.45,0.05,0.045],[-0.35,0.069,0.045],[-0.24,0.22,0.05],[-0.14,0.122,0.04],[-0.04,0.146,0.04],[0.06,0.114,0.04],[0.16,0.15,0.04],[0.26,0.29,0.04],[0.36,0.22,0.04],[0.46,0.45,0.05],[0.55,0.28,0.04],[0.65,0.16,0.04],[0.76,0.09,0.04],[0.86,0.41,0.05],[0.96,0.23,0.04]];
const fit1650 = [[-1,0.70],[-0.8,0.34],[-0.6,0.185],[-0.45,0.136],[-0.3,0.122],[-0.15,0.136],[0,0.16],[0.2,0.21],[0.4,0.26],[0.6,0.31],[0.8,0.355],[1,0.40]];
const alt1650 = [[-1,0.70],[-0.8,0.35],[-0.6,0.19],[-0.45,0.14],[-0.3,0.127],[-0.15,0.14],[0,0.165],[0.2,0.21],[0.4,0.26],[0.6,0.3],[0.8,0.35],[1,0.39]];

const green1660 = [[-0.94,0.70,0.03],[-0.84,0.47,0.03],[-0.73,0.30,0.02],[-0.63,0.21,0.02],[-0.53,0.16,0.02],[-0.43,0.114,0.02],[-0.32,0.10,0.02],[-0.22,0.108,0.02],[-0.12,0.08,0.03],[-0.02,0.114,0.02],[0.08,0.08,0.03],[0.18,0.146,0.02],[0.28,0.185,0.02],[0.39,0.20,0.02],[0.49,0.23,0.02],[0.59,0.25,0.02],[0.69,0.26,0.02],[0.79,0.29,0.02],[0.90,0.31,0.02],[1.0,0.33,0.02]];
const orange1660 = [[-0.93,0.81,0.07],[-0.83,0.36,0.05],[-0.72,0.22,0.04],[-0.62,0.095,0.04],[-0.52,0.095,0.04],[-0.42,0.114,0.04],[-0.32,0.28,0.05],[-0.22,0.08,0.04],[-0.12,0.06,0.045],[-0.02,0.13,0.04],[0.08,0.136,0.04],[0.18,0.108,0.04],[0.28,0.16,0.04],[0.39,0.185,0.04],[0.49,0.14,0.04],[0.66,0.031,0.045],[0.76,0.185,0.04],[0.86,0.28,0.04],[0.97,0.47,0.05]];
const black1660 = [[-0.60,0.168,0.01],[-0.50,0.146,0.01],[-0.38,0.136,0.01],[-0.27,0.136,0.01],[-0.14,0.146,0.01],[-0.02,0.16,0.01],[0.09,0.185,0.01],[0.21,0.21,0.01],[0.34,0.195,0.01]];
const fit1660 = [[-1,0.72],[-0.8,0.34],[-0.6,0.185],[-0.45,0.13],[-0.3,0.118],[-0.15,0.13],[0,0.155],[0.2,0.185],[0.4,0.22],[0.6,0.25],[0.8,0.28],[1,0.31]];
const alt1660 = [[-1,0.72],[-0.8,0.35],[-0.6,0.19],[-0.45,0.135],[-0.3,0.122],[-0.15,0.135],[0,0.16],[0.2,0.19],[0.4,0.22],[0.6,0.25],[0.8,0.28],[1,0.31]];

const green1670 = [[-0.95,0.51,0.03],[-0.85,0.40,0.03],[-0.75,0.26,0.02],[-0.64,0.175,0.02],[-0.54,0.13,0.02],[-0.44,0.095,0.02],[-0.34,0.072,0.02],[-0.24,0.09,0.02],[-0.13,0.108,0.02],[-0.03,0.09,0.02],[0.06,0.053,0.03],[0.16,0.114,0.02],[0.26,0.146,0.02],[0.36,0.154,0.02],[0.46,0.185,0.02],[0.57,0.22,0.02],[0.67,0.25,0.02],[0.77,0.30,0.02],[0.87,0.168,0.03],[0.98,0.40,0.03]];
const orange1670 = [[-0.95,0.51,0.05],[-0.83,0.33,0.04],[-0.73,0.25,0.04],[-0.63,0.185,0.04],[-0.53,0.067,0.05],[-0.42,0.056,0.04],[-0.32,0.108,0.04],[-0.22,0.10,0.04],[-0.12,0.10,0.04],[-0.02,0.108,0.04],[0.08,0.118,0.04],[0.18,0.16,0.04],[0.29,0.13,0.04],[0.39,0.16,0.04],[0.49,0.20,0.04],[0.59,0.23,0.04],[0.69,0.20,0.04],[0.77,0.47,0.05],[0.87,0.26,0.04],[0.98,0.40,0.04]];
const fit1670 = [[-1,0.54],[-0.8,0.29],[-0.6,0.146],[-0.45,0.10],[-0.35,0.09],[-0.2,0.10],[0,0.114],[0.2,0.14],[0.4,0.175],[0.6,0.22],[0.8,0.28],[1,0.33]];
const alt1670 = [[-1,0.54],[-0.8,0.29],[-0.6,0.15],[-0.45,0.105],[-0.35,0.095],[-0.2,0.105],[0,0.12],[0.2,0.145],[0.4,0.18],[0.6,0.23],[0.8,0.3],[1,0.37]];

const black1675 = [[-0.92,0.425,0.015],[-0.80,0.26,0.01],[-0.67,0.154,0.01],[-0.55,0.10,0.008],[-0.44,0.085,0.008],[-0.30,0.076,0.008],[-0.19,0.10,0.008],[-0.06,0.10,0.008],[0.07,0.154,0.01],[0.19,0.168,0.01],[0.32,0.195,0.01],[0.44,0.195,0.01],[0.57,0.20,0.01],[0.70,0.185,0.01],[0.83,0.25,0.01],[0.96,0.41,0.015]];
const fit1675 = [[-1,0.51],[-0.8,0.25],[-0.6,0.13],[-0.45,0.09],[-0.3,0.08],[-0.15,0.095],[0,0.122],[0.2,0.154],[0.4,0.20],[0.6,0.25],[0.8,0.31],[1,0.40]];
const alt1675 = [[-1,0.51],[-0.8,0.25],[-0.6,0.13],[-0.45,0.09],[-0.3,0.08],[-0.15,0.095],[0,0.125],[0.2,0.16],[0.4,0.21],[0.6,0.27],[0.8,0.35],[1,0.47]];

const green1680 = [[-0.99,0.425,0.02],[-0.89,0.31,0.02],[-0.78,0.20,0.02],[-0.68,0.122,0.015],[-0.58,0.08,0.01],[-0.48,0.067,0.01],[-0.37,0.083,0.01],[-0.27,0.085,0.01],[-0.17,0.10,0.01],[-0.07,0.114,0.01],[0.04,0.095,0.01],[0.14,0.136,0.01],[0.24,0.168,0.015],[0.34,0.21,0.015],[0.45,0.25,0.015],[0.55,0.28,0.02],[0.65,0.33,0.02],[0.76,0.40,0.02],[0.86,0.45,0.02],[0.96,0.51,0.02],[1.0,0.54,0.02]];
const orange1680 = [[-0.95,0.40,0.04],[-0.84,0.40,0.04],[-0.74,0.28,0.04],[-0.64,0.16,0.03],[-0.53,0.06,0.03],[-0.43,0.09,0.03],[-0.33,0.168,0.04],[-0.23,0.136,0.03],[-0.13,0.14,0.03],[-0.03,0.136,0.03],[0.08,0.154,0.03],[0.18,0.16,0.03],[0.28,0.24,0.04],[0.39,0.21,0.03],[0.49,0.26,0.04],[0.57,0.40,0.04],[0.66,0.185,0.04],[0.76,0.375,0.04],[0.87,0.40,0.04],[0.97,0.54,0.05]];
const fit1680 = [[-1,0.47],[-0.8,0.21],[-0.6,0.09],[-0.5,0.067],[-0.4,0.072],[-0.2,0.10],[0,0.136],[0.2,0.185],[0.4,0.24],[0.6,0.31],[0.8,0.40],[1,0.49]];
const alt1680 = [[-1,0.47],[-0.8,0.21],[-0.6,0.092],[-0.5,0.07],[-0.4,0.075],[-0.2,0.105],[0,0.14],[0.2,0.19],[0.4,0.245],[0.6,0.31],[0.8,0.4],[1,0.49]];

const orange1685 = [[-0.93,0.72,0.06],[-0.83,0.26,0.04],[-0.73,0.22,0.04],[-0.62,0.085,0.03],[-0.52,0.05,0.04],[-0.42,0.10,0.03],[-0.32,0.08,0.03],[-0.23,0.08,0.03],[-0.13,0.08,0.03],[-0.04,0.154,0.03],[0.07,0.185,0.03],[0.17,0.25,0.04],[0.27,0.31,0.04],[0.36,0.375,0.04],[0.48,0.20,0.04],[0.58,0.425,0.04],[0.68,0.40,0.04],[0.87,0.355,0.04],[0.97,0.68,0.05]];
const fit1685 = [[-1,0.49],[-0.8,0.21],[-0.6,0.09],[-0.45,0.06],[-0.3,0.072],[-0.1,0.108],[0.1,0.154],[0.3,0.22],[0.5,0.29],[0.7,0.375],[0.9,0.51],[1,0.57]];
const alt1685 = [[-1,0.49],[-0.8,0.21],[-0.6,0.092],[-0.45,0.065],[-0.3,0.076],[-0.1,0.112],[0.1,0.16],[0.3,0.23],[0.5,0.31],[0.7,0.4],[0.9,0.52],[1,0.58]];

const green1690 = [[-0.98,0.51,0.03],[-0.88,0.41,0.03],[-0.77,0.25,0.02],[-0.67,0.136,0.015],[-0.57,0.076,0.01],[-0.47,0.06,0.01],[-0.36,0.067,0.01],[-0.26,0.085,0.01],[-0.16,0.114,0.01],[-0.06,0.14,0.01],[0.05,0.175,0.015],[0.15,0.21,0.015],[0.25,0.24,0.015],[0.35,0.28,0.02],[0.45,0.31,0.02],[0.56,0.355,0.02],[0.66,0.41,0.02],[0.76,0.45,0.02],[0.87,0.49,0.02],[0.97,0.54,0.02]];
const blue1690 = [[-0.93,0.61,0.1],[-0.83,0.51,0.08],[-0.72,0.54,0.08],[-0.62,0.072,0.08],[-0.52,0.08,0.09],[-0.43,0.063,0.07],[-0.33,0.154,0.06],[-0.23,0.067,0.07],[-0.13,0.108,0.05],[-0.02,0.195,0.05],[0.08,0.33,0.07],[0.18,0.13,0.09],[0.27,0.20,0.06],[0.37,0.29,0.07],[0.47,0.375,0.08],[0.57,0.20,0.07],[0.68,0.49,0.07],[0.78,0.51,0.07],[0.88,0.64,0.08],[0.99,0.59,0.08]];
const fit1690 = [[-1,0.59],[-0.8,0.25],[-0.65,0.118],[-0.5,0.067],[-0.4,0.072],[-0.2,0.108],[0,0.16],[0.2,0.22],[0.4,0.29],[0.6,0.375],[0.8,0.47],[1,0.57]];
const alt1690 = [[-1,0.59],[-0.8,0.25],[-0.65,0.12],[-0.5,0.07],[-0.4,0.075],[-0.2,0.112],[0,0.165],[0.2,0.23],[0.4,0.3],[0.6,0.385],[0.8,0.48],[1,0.58]];

const orange1695 = [[-0.93,0.87,0.07],[-0.84,0.375,0.05],[-0.74,0.22,0.04],[-0.63,0.031,0.04],[-0.53,0.04,0.045],[-0.43,0.108,0.03],[-0.24,0.146,0.03],[-0.14,0.24,0.04],[-0.02,0.108,0.03],[0.07,0.34,0.04],[0.17,0.33,0.04],[0.27,0.41,0.04],[0.36,0.22,0.04],[0.48,0.29,0.04],[0.57,0.40,0.04],[0.66,0.41,0.04],[0.77,0.425,0.04],[0.86,0.49,0.04],[0.98,0.59,0.05]];
const fit1695 = [[-1,0.72],[-0.8,0.24],[-0.6,0.09],[-0.48,0.067],[-0.35,0.08],[-0.2,0.118],[0,0.168],[0.2,0.23],[0.4,0.31],[0.6,0.41],[0.8,0.51],[1,0.57]];
const alt1695 = [[-1,0.72],[-0.8,0.25],[-0.6,0.095],[-0.48,0.076],[-0.35,0.088],[-0.2,0.125],[0,0.175],[0.2,0.24],[0.4,0.32],[0.6,0.42],[0.8,0.52],[1,0.58]];

// ---------- panel table (built from the arrays above) ----------
const PANELS: any[] = [
  { w: 1465, fit: fit1465, alt: alt1465, sets: [['redC', red1465]] },
  { w: 1470, fit: fit1470, alt: alt1470, sets: [['redC', red1470]] },
  { w: 1475, fit: fit1475, alt: alt1475, sets: [['redC', red1475]] },
  { w: 1480, fit: fit1480, alt: alt1480, sets: [['redC', red1480]] },
  { w: 1485, fit: fit1485, alt: alt1485, sets: [['redC', red1485]] },
  { w: 1490, fit: fit1490, alt: alt1490, sets: [['greenC', green1490], ['redC', red1490]] },
  { w: 1495, fit: fit1495, alt: alt1495, sets: [['greenC', green1495]] },
  { w: 1500, fit: fit1500, alt: alt1500, sets: [['greenC', green1500]] },
  { w: 1505, fit: fit1505, alt: alt1505, sets: [['greenC', green1505]] },
  { w: 1510, fit: fit1510, alt: alt1510, sets: [['greenC', green1510]] },
  { w: 1515, fit: fit1515, alt: alt1515, sets: [['greenC', green1515]] },
  { w: 1520, fit: fit1520, alt: alt1520, sets: [['greenC', green1520]] },
  { w: 1525, fit: fit1525, alt: alt1525, sets: [['greenC', green1525]] },
  { w: 1530, fit: fit1530, alt: alt1530, sets: [['greenC', green1530]] },
  { w: 1535, fit: fit1535, alt: alt1535, sets: [['orangeS', orange1535], ['greenC', green1535]] },
  { w: 1540, fit: fit1540, alt: alt1540, sets: [['greenC', green1540]] },
  { w: 1545, fit: fit1545, alt: alt1545, sets: [['orangeS', orange1545], ['greenC', green1545]] },
  { w: 1550, fit: fit1550, alt: alt1550, sets: [['orangeS', orange1550]] },
  { w: 1560, fit: fit1560, alt: alt1560, sets: [['orangeS', orange1560]] },
  { w: 1570, fit: fit1570, alt: alt1570, sets: [['greenS', green1570], ['orangeS', orange1570], ['blackC', black1570]] },
  { w: 1580, fit: fit1580, alt: alt1580, sets: [['greenS', green1580], ['orangeS', orange1580]] },
  { w: 1585, fit: fit1585, alt: alt1585, sets: [['greenS', green1585], ['orangeS', orange1585]] },
  { w: 1590, fit: fit1590, alt: alt1590, sets: [['blackC', black1590]] },
  { w: 1595, fit: fit1595, alt: alt1595, sets: [['greenS', green1595], ['orangeS', orange1595]] },
  { w: 1600, fit: fit1600, alt: alt1600, sets: [['blackC', black1600]] },
  { w: 1605, fit: fit1605, alt: alt1605, sets: [['greenS', green1605], ['orangeS', orange1605]] },
  { w: 1615, fit: fit1615, alt: alt1615, sets: [['greenS', green1615], ['orangeS', orange1615]] },
  { w: 1620, fit: fit1620, alt: alt1620, sets: [['blackC', black1620]] },
  { w: 1625, fit: fit1625, alt: alt1625, sets: [['greenS', green1625], ['orangeS', orange1625]] },
  { w: 1635, fit: fit1635, alt: alt1635, sets: [['greenS', green1635], ['orangeS', orange1635], ['blackC', black1635]] },
  { w: 1640, fit: fit1640, alt: alt1640, sets: [['orangeS', orange1640]] },
  { w: 1645, fit: fit1645, alt: alt1645, sets: [['greenS', green1645], ['blackC', black1645]] },
  { w: 1650, fit: fit1650, alt: alt1650, sets: [['greenS', green1650], ['orangeS', orange1650]] },
  { w: 1660, fit: fit1660, alt: alt1660, sets: [['greenS', green1660], ['orangeS', orange1660], ['blackC', black1660]] },
  { w: 1670, fit: fit1670, alt: alt1670, sets: [['greenS', green1670], ['orangeS', orange1670]] },
  { w: 1675, fit: fit1675, alt: alt1675, sets: [['blackC', black1675]] },
  { w: 1680, fit: fit1680, alt: alt1680, sets: [['greenS', green1680], ['orangeS', orange1680]] },
  { w: 1685, fit: fit1685, alt: alt1685, sets: [['orangeS', orange1685]] },
  { w: 1690, fit: fit1690, alt: alt1690, sets: [['greenS', green1690], ['blueS', blue1690]] },
  { w: 1695, fit: fit1695, alt: alt1695, sets: [['orangeS', orange1695]] },
];

// ---------- layout & styles ----------
const COL_X = [59, 198, 338, 477, 617, 756, 896, 1035, 1174];
const ROW_Y = [49, 204, 359, 514, 670, 826];
const Y_MAIN_W = 39; // outer label band ("1", "10")
const Y_SUP_W = 20;  // inner label band (exponents)
const MARKERS: any = {
  redC: { color: '#ff0000', shape: 'circle', r: 4, gap: 4 },
  greenC: { color: '#2e9c12', shape: 'circle', r: 4, gap: 4 },
  blackC: { color: '#000000', shape: 'circle', r: 4, gap: 4 },
  orangeS: { color: '#ff8a12', shape: 'rect', r: 6.3, gap: 4.5 },
  greenS: { color: '#2e9c12', shape: 'rect', r: 6.3, gap: 4.5 },
  blueS: { color: '#0000ff', shape: 'rect', r: 6.3, gap: 4.5 },
};

const errorBarPlugin = {
  id: 'errorBars',
  beforeDatasetsDraw(chart: any) {
    const { ctx, chartArea: a } = chart;
    const xs = chart.scales.x, ys = chart.scales.y;
    ctx.save();
    ctx.beginPath();
    ctx.rect(a.left, a.top, a.right - a.left, a.bottom - a.top);
    ctx.clip();
    ctx.lineWidth = 1.5;
    chart.data.datasets.forEach((ds: any) => {
      if (!ds.errors) return;
      ctx.strokeStyle = ds.borderColor;
      ctx.beginPath();
      ds.data.forEach((pt: any, i: number) => {
        const e = ds.errors[i];
        const px = xs.getPixelForValue(pt.x);
        const py = ys.getPixelForValue(pt.y);
        const top = ys.getPixelForValue(pt.y + e);
        const lo = pt.y - e;
        const bot = lo > 0 ? ys.getPixelForValue(lo) : a.bottom;
        if (top < py - ds.gap) { ctx.moveTo(px, top); ctx.lineTo(px, py - ds.gap); }
        if (bot > py + ds.gap) { ctx.moveTo(px, py + ds.gap); ctx.lineTo(px, bot); }
      });
      ctx.stroke();
    });
    ctx.restore();
  },
};

const framePlugin = {
  id: 'panelFrame',
  afterDraw(chart: any) {
    const { ctx, chartArea: a } = chart;
    const xs = chart.scales.x, ys = chart.scales.y;
    ctx.save();
    ctx.strokeStyle = '#000';
    ctx.lineWidth = 1.3;
    ctx.beginPath();
    Y_DECADES.forEach((d) => {
      Y_MANTISSAS.forEach((m) => {
        const v = d * m;
        if (v < Y_MIN * 0.999 || v > Y_MAX) return;
        const py = ys.getPixelForValue(v);
        const len = m === 1 ? 9 : 4.5;
        ctx.moveTo(a.left, py);
        ctx.lineTo(a.left + len, py);
      });
    });
    X_TICKS.forEach((v) => {
      const px = xs.getPixelForValue(v);
      const len = X_LABEL_VALUES.includes(v) ? 9 : 4.5;
      ctx.moveTo(px, a.bottom);
      ctx.lineTo(px, a.bottom - len);
    });
    ctx.stroke();
    ctx.lineWidth = 1.7;
    ctx.strokeRect(a.left, a.top, a.right - a.left, a.bottom - a.top);
    ctx.restore();
  },
};

function noPadding(ax: any) {
  ax.paddingTop = 0;
  ax.paddingBottom = 0;
  ax.paddingLeft = 0;
  ax.paddingRight = 0;
}

function Panel({ p, row, col }: any) {
  const ref = useRef<HTMLCanvasElement>(null);
  const first = col === 0;
  const padL = first ? COL_X[0] : 3;
  const padB = row === 4 ? 46 : 3;
  const padT = 3, padR = 3;
  const left = COL_X[col], right = COL_X[col + 1];
  const top = ROW_Y[row], bottom = ROW_Y[row + 1];
  const w = right - left + padL + padR;
  const h = bottom - top + padT + padB;

  useEffect(() => {
    const datasets: any[] = [
      {
        data: p.fit.map((q: number[]) => ({ x: q[0], y: q[1] })),
        borderColor: '#000', borderWidth: 2, pointRadius: 0,
        cubicInterpolationMode: 'monotone', fill: false,
      },
      {
        data: p.alt.map((q: number[]) => ({ x: q[0], y: q[1] })),
        borderColor: '#000', borderWidth: 1.6, borderDash: [3, 3], pointRadius: 0,
        cubicInterpolationMode: 'monotone', fill: false,
      },
    ];
    p.sets.forEach(([kind, pts]: any) => {
      const m = MARKERS[kind];
      datasets.push({
        data: pts.map((q: number[]) => ({ x: q[0], y: q[1] })),
        errors: pts.map((q: number[]) => q[2]),
        gap: m.gap,
        showLine: false,
        borderColor: m.color,
        backgroundColor: 'rgba(0,0,0,0)',
        pointStyle: m.shape,
        pointRadius: m.r,
        pointBorderColor: m.color,
        pointBackgroundColor: 'rgba(0,0,0,0)',
        pointBorderWidth: 1.5,
      });
    });

    const chart = new Chart(ref.current as HTMLCanvasElement, {
      type: 'line',
      data: { datasets },
      options: {
        animation: false,
        responsive: false,
        devicePixelRatio: 1,
        events: [],
        layout: { padding: { top: padT, right: padR, left: 0, bottom: 0 }, autoPadding: false },
        plugins: { legend: { display: false }, tooltip: { enabled: false }, title: { display: false } },
        scales: {
          x: {
            type: 'linear', min: X_MIN, max: X_MAX, position: 'bottom',
            grid: { display: false, drawTicks: false }, border: { display: false },
            ticks: {
              display: row === 4, color: '#000', padding: 5, autoSkip: false, maxRotation: 0,
              font: { family: FONT, size: 20 },
              callback: (_v: any, i: number) => X_LABELS[i],
            },
            afterBuildTicks: (ax: any) => { ax.ticks = X_LABEL_VALUES.map((v) => ({ value: v })); },
            afterFit: (ax: any) => { ax.height = padB; noPadding(ax); },
          },
          y: {
            type: 'logarithmic', min: Y_MIN, max: Y_MAX, position: 'left', weight: 1,
            grid: { display: false, drawTicks: false }, border: { display: false },
            ticks: {
              display: first, color: '#000', padding: 0, autoSkip: false, labelOffset: 2,
              font: { family: FONT, size: 20 },
              callback: (_v: any, i: number) => Y_LABELS[i],
            },
            afterBuildTicks: (ax: any) => { ax.ticks = Y_LABEL_VALUES.map((v) => ({ value: v })); },
            afterFit: (ax: any) => { ax.width = first ? Y_MAIN_W : padL; noPadding(ax); },
          },
          ySup: {
            type: 'logarithmic', min: Y_MIN, max: Y_MAX, position: 'left', weight: 0,
            display: first,
            grid: { display: false, drawTicks: false }, border: { display: false },
            ticks: {
              color: '#000', padding: 3, autoSkip: false, labelOffset: -17,
              font: { family: FONT, size: 15 },
              callback: (_v: any, i: number) => Y_SUP_LABELS[i],
            },
            afterBuildTicks: (ax: any) => { ax.ticks = Y_LABEL_VALUES.map((v) => ({ value: v })); },
            afterFit: (ax: any) => { ax.width = first ? Y_SUP_W : 0; noPadding(ax); },
          },
        },
      } as any,
      plugins: [errorBarPlugin, framePlugin],
    });
    return () => chart.destroy();
  }, []);

  return (
    <canvas
      ref={ref}
      width={w}
      height={h}
      style={{ position: 'absolute', left: left - padL, top: top - padT, width: w, height: h }}
    />
  );
}

const supStyle: any = { fontSize: '0.68em', verticalAlign: '0.62em', lineHeight: 0 };

export default function App() {
  return (
    <div style={{ position: 'absolute', left: 0, top: 0, width: 1182, height: 886, background: '#fff', overflow: 'hidden', fontFamily: FONT, color: '#000' }}>
      {PANELS.map((p, i) => (
        <Panel key={p.w} p={p} row={Math.floor(i / 8)} col={i % 8} />
      ))}
      {PANELS.map((p, i) => (
        <div
          key={'l' + p.w}
          style={{ position: 'absolute', left: COL_X[i % 8] + 20.5, top: ROW_Y[Math.floor(i / 8)] + 1.5, fontSize: 20, lineHeight: '20px', whiteSpace: 'nowrap' }}
        >
          W={p.w}
        </div>
      ))}
      <div style={{ position: 'absolute', left: 405, top: 10, fontSize: 28, lineHeight: '32px', whiteSpace: 'nowrap', transform: 'scaleX(1.15)', transformOrigin: '0 0' }}>
        dσ/dΩ, mb/sr (K<span style={supStyle}>−</span>p → <span style={{ textDecoration: 'overline' }}>K</span><span style={supStyle}>0</span>n)
      </div>
      <div style={{ position: 'absolute', right: 10, top: 860, fontSize: 26, lineHeight: '26px', whiteSpace: 'nowrap', transform: 'scaleX(1.15)', transformOrigin: '100% 0' }}>
        cos θ
      </div>
    </div>
  );
}
